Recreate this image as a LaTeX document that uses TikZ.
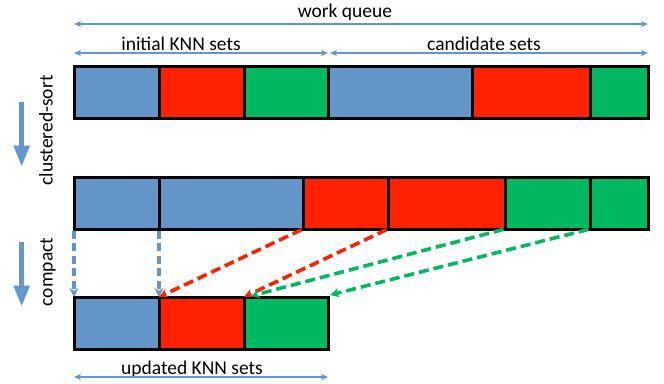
\documentclass[tikz,border=0pt]{standalone}
\usepackage{fontspec}
\setmainfont{Carlito}
\usetikzlibrary{arrows.meta}
\definecolor{kblue}{RGB}{99,149,201}
\definecolor{kred}{RGB}{255,34,0}
\definecolor{kgreen}{RGB}{0,184,96}
\definecolor{arrblue}{RGB}{99,152,206}

\begin{document}
\begin{tikzpicture}[x=1pt,y=-1pt,
  blk/.style={draw=black, line width=3pt, inner sep=0pt, outer sep=0pt,
              minimum height=52pt, anchor=north west},
  lbl/.style={font=\fontsize{19.5}{22}\selectfont, inner sep=0pt, anchor=base},
  span/.style={arrblue, line width=1.5pt,
               {Stealth[length=7pt,width=6pt,inset=2pt]}-{Stealth[length=7pt,width=6pt,inset=2pt]}},
  stagearrow/.style={arrblue, line width=5pt, -{Triangle[length=21pt,width=15pt]}},
  link/.style={line width=3.6pt, dash pattern=on 10pt off 5pt, shorten <=1.5pt,
               -{Stealth[length=9pt,width=9pt,inset=3pt]}},
  droplink/.style={link, line width=3.2pt, dash pattern=on 8pt off 4.5pt},
]
\useasboundingbox (0,0) rectangle (664,383);

% work queue before sorting
\node[blk, fill=kblue,  minimum width=85pt]  (a1) at (74,66.5) {};
\node[blk, fill=kred,   minimum width=85pt]  (a2) at (159,66.5) {};
\node[blk, fill=kgreen, minimum width=84pt]  (a3) at (244,66.5) {};
\node[blk, fill=kblue,  minimum width=144pt] (a4) at (328,66.5) {};
\node[blk, fill=kred,   minimum width=118pt] (a5) at (472,66.5) {};
\node[blk, fill=kgreen, minimum width=58pt]  (a6) at (590,66.5) {};

% after clustered sort
\node[blk, fill=kblue,  minimum width=85pt]  (b1) at (74,177) {};
\node[blk, fill=kblue,  minimum width=144pt] (b2) at (159,177) {};
\node[blk, fill=kred,   minimum width=85pt]  (b3) at (303,177) {};
\node[blk, fill=kred,   minimum width=117pt] (b4) at (388,177) {};
\node[blk, fill=kgreen, minimum width=85pt]  (b5) at (505,177) {};
\node[blk, fill=kgreen, minimum width=58pt]  (b6) at (590,177) {};

% after compaction
\node[blk, fill=kblue,  minimum width=85pt]  (c1) at (74,297) {};
\node[blk, fill=kred,   minimum width=85pt]  (c2) at (159,297) {};
\node[blk, fill=kgreen, minimum width=84pt]  (c3) at (244,297) {};

% span labels
\node[lbl] (wq) at (345,17) {work queue};
\node[lbl] (ik) at (181,50.5) {initial KNN sets};
\node[lbl] (cs) at (484,50.5) {candidate sets};
\node[lbl] (uk) at (192,374) {updated KNN sets};

\coordinate (wqL) at (74,24);   \coordinate (wqR) at (648,24);
\coordinate (ikL) at (74,53);   \coordinate (ikR) at (328,53);
\coordinate (csL) at (330,53);  \coordinate (csR) at (648,53);
\coordinate (ukL) at (74,377);  \coordinate (ukR) at (328,377);
\draw[span] (wqL) -- (wqR);
\draw[span] (ikL) -- (ikR);
\draw[span] (csL) -- (csR);
\draw[span] (ukL) -- (ukR);

% stage arrows with rotated captions
\node[lbl, rotate=90] (cso) at (52.5,130.5) {clustered-sort};
\node[lbl, rotate=90] (cmp) at (52.5,272) {compact};
\coordinate (s1a) at (21.7,101.7); \coordinate (s1b) at (21.7,166.7);
\coordinate (s2a) at (21.7,241.7); \coordinate (s2b) at (21.7,306.7);
\draw[stagearrow] (s1a) -- (s1b);
\draw[stagearrow] (s2a) -- (s2b);

% compaction moves
\draw[droplink, kblue] (b1.south west) -- (c1.north west);
\draw[droplink, kblue] (b2.south west) -- (c2.north west);
\draw[link, kred]   (b3.south west) -- (c2.north west);
\draw[link, kred]   (b4.south west) -- (c3.north west);
\draw[link, kgreen] (b5.south west) -- ([xshift=7pt,yshift=1pt]c3.north west);
\draw[link, kgreen] (b6.south west) -- ([xshift=2pt,yshift=2pt]c3.north east);
\end{tikzpicture}
\end{document}
